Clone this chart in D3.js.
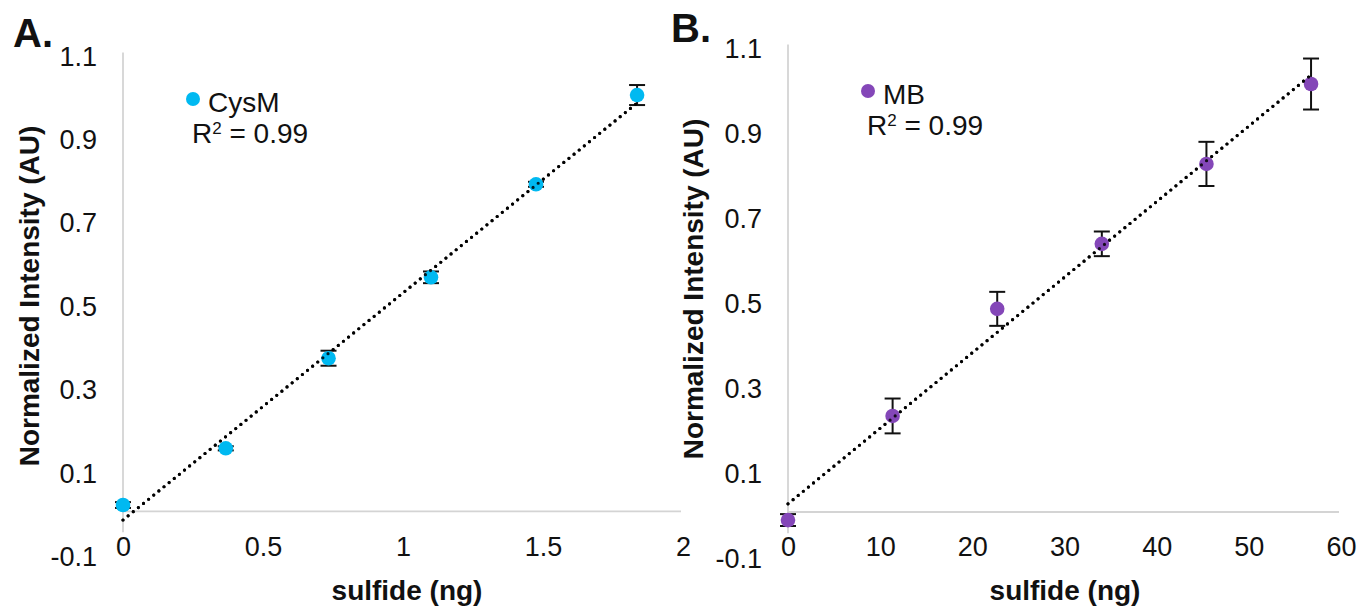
<!DOCTYPE html>
<html>
<head>
<meta charset="utf-8">
<style>
body { margin: 0; background: #fff; }
svg text { font-family: "Liberation Sans", Arial, sans-serif; fill: #111; }
.tick text { font-size: 27px; }
.ttl { font-size: 28px; font-weight: bold; }
.panel { font-size: 40px; font-weight: bold; }
.leg { font-size: 28px; }
</style>
</head>
<body>
<svg id="chart" width="1361" height="610"></svg>
<script src="https://d3js.org/d3.v7.min.js"></script>
<script>
// panel A - CysM
const cysX = [0, 0.367, 0.734, 1.10, 1.475, 1.836];
const cysY = [0.015, 0.151, 0.367, 0.561, 0.784, 0.998];
const cysErr = [0.007, 0.005, 0.018, 0.014, 0.006, 0.024];
const cysTicksX = [0, 0.5, 1, 1.5, 2];
const cysTickLabelsX = ["0", "0.5", "1", "1.5", "2"];

// panel B - MB
const mbX = [0, 11.35, 22.7, 34.05, 45.4, 56.75];
const mbY = [-0.019, 0.226, 0.478, 0.631, 0.819, 1.007];
const mbErr = [0.014, 0.041, 0.04, 0.029, 0.052, 0.06];
const mbTicksX = [0, 10, 20, 30, 40, 50, 60];

const ticksY = [-0.1, 0.1, 0.3, 0.5, 0.7, 0.9, 1.1];

const svg = d3.select("#chart");

function linfit(xs, ys) {
    const mx = d3.mean(xs), my = d3.mean(ys);
    let sxy = 0, sxx = 0;
    xs.forEach((x, i) => { sxy += (x - mx) * (ys[i] - my); sxx += (x - mx) * (x - mx); });
    const b = sxy / sxx;
    return { b: b, a: my - b * mx };
}

function drawPanel(o) {
    const g = svg.append("g");
    const x = d3.scaleLinear().domain(o.xDomain).range(o.xRange);
    const y = d3.scaleLinear().domain([-0.1, 1.1]).range(o.yRange);

    // axis lines (light grey, cross at 0)
    g.append("line")
        .attr("x1", x(0)).attr("x2", x(o.xDomain[1]) - 2)
        .attr("y1", y(0)).attr("y2", y(0))
        .style("stroke", "#d4d4d4").style("stroke-width", 1.8);
    g.append("line")
        .attr("x1", x(0)).attr("x2", x(0))
        .attr("y1", y(1.1)).attr("y2", y(-0.05))
        .style("stroke", "#d4d4d4").style("stroke-width", 1.8);

    // y tick labels
    const ya = g.append("g")
        .attr("transform", "translate(" + x(0) + ",4)")
        .call(d3.axisLeft(y).tickValues(ticksY).tickSize(0).tickPadding(26)
            .tickFormat(d => d3.format(".1f")(d).replace("−", "-")));
    ya.select(".domain").remove();

    // x tick labels (low position)
    const xa = g.append("g")
        .attr("transform", "translate(0," + o.xLabelY + ")")
        .call(d3.axisBottom(x).tickValues(o.ticksX).tickSize(0).tickPadding(0)
            .tickFormat((d, i) => o.tickLabelsX ? o.tickLabelsX[i] : d));
    xa.select(".domain").remove();
    xa.selectAll("text").style("text-anchor", "middle");

    // trendline
    const fit = linfit(o.xs, o.ys);
    const xEnd = d3.max(o.xs);
    const trend = () => g.append("line")
        .attr("x1", x(0)).attr("y1", y(fit.a))
        .attr("x2", x(xEnd)).attr("y2", y(fit.a + fit.b * xEnd))
        .style("stroke", "#000").style("stroke-width", 3.2)
        .style("stroke-linecap", "round")
        .style("stroke-dasharray", "0,6.6");
    trend();

    // error bars
    const pts = o.xs.map((v, i) => ({ x: v, y: o.ys[i], e: o.err[i] }));
    const eb = g.selectAll(".eb").data(pts).enter().append("g").attr("class", "eb")
        .style("stroke", "#111").style("stroke-width", 2);
    eb.append("line")
        .attr("x1", d => x(d.x)).attr("x2", d => x(d.x))
        .attr("y1", d => y(d.y - d.e)).attr("y2", d => y(d.y + d.e));
    eb.append("line")
        .attr("x1", d => x(d.x) - 8).attr("x2", d => x(d.x) + 8)
        .attr("y1", d => y(d.y - d.e)).attr("y2", d => y(d.y - d.e));
    eb.append("line")
        .attr("x1", d => x(d.x) - 8).attr("x2", d => x(d.x) + 8)
        .attr("y1", d => y(d.y + d.e)).attr("y2", d => y(d.y + d.e));

    // markers
    g.selectAll(".pt").data(pts).enter().append("circle")
        .attr("class", "pt")
        .attr("cx", d => x(d.x)).attr("cy", d => y(d.y))
        .attr("r", 7.3)
        .style("fill", o.color);

    // the dots of the trendline sit on top of the markers in the original
    trend().style("opacity", 0.85);

    // legend
    g.append("circle").attr("cx", o.leg[0]).attr("cy", o.leg[1]).attr("r", 7).style("fill", o.color);
    g.append("text").attr("class", "leg")
        .attr("x", o.leg[0] + 15).attr("y", o.leg[1] + 13).text(o.name);
    const r2 = g.append("text").attr("class", "leg")
        .attr("x", o.leg[0] - 1).attr("y", o.leg[1] + 44);
    r2.append("tspan").text("R");
    r2.append("tspan").attr("dy", -9).style("font-size", "17px").text("2");
    r2.append("tspan").attr("dy", 9).text(" = 0.99");

    // titles
    g.append("text").attr("class", "panel")
        .attr("x", o.panelPos[0]).attr("y", o.panelPos[1]).text(o.panel);
    g.append("text").attr("class", "ttl")
        .attr("transform", "translate(" + o.yTitle[0] + "," + o.yTitle[1] + ") rotate(-90)")
        .style("text-anchor", "middle")
        .text("Normalized Intensity (AU)");
    g.append("text").attr("class", "ttl")
        .attr("x", o.xTitle[0]).attr("y", o.xTitle[1])
        .style("text-anchor", "middle")
        .text("sulfide (ng)");
}

drawPanel({
    xs: cysX, ys: cysY, err: cysErr, color: "#00b9f1", name: "CysM",
    xDomain: [0, 2], xRange: [123, 683], yRange: [553, 52.5],
    ticksX: cysTicksX, tickLabelsX: cysTickLabelsX, xLabelY: 537,
    leg: [193, 99], panel: "A.", panelPos: [13, 47],
    yTitle: [39, 296], xTitle: [407, 600]
});

drawPanel({
    xs: mbX, ys: mbY, err: mbErr, color: "#8447b8", name: "MB",
    xDomain: [0, 60], xRange: [788, 1341], yRange: [554.5, 44.5],
    ticksX: mbTicksX, tickLabelsX: null, xLabelY: 537,
    leg: [868, 91], panel: "B.", panelPos: [671, 42],
    yTitle: [703, 289], xTitle: [1065, 600]
});
</script>
</body>
</html>
